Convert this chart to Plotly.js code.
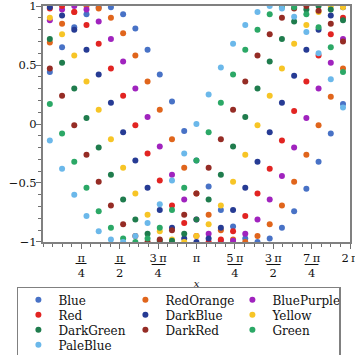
<!DOCTYPE html>
<html>
<head>
<meta charset="utf-8">
<script src="https://cdn.plot.ly/plotly-3.0.1.min.js"></script>
<style>html,body{margin:0;padding:0;background:#fff}#chart{width:355px;height:355px}</style>
</head>
<body>
<div id="chart"></div>
<script>
// sample positions (radians)
const xValues = [0.14,0.39,0.64,0.89,1.14,1.39,1.64,1.89,2.14,2.39,2.64,2.89,3.14,3.39,3.64,3.89,4.14,4.39,4.64,4.89,5.14,5.39,5.64,5.89,6.14];

const seriesNames = ['Blue','RedOrange','BluePurple','Red','DarkBlue','Yellow','DarkGreen','DarkRed','Green','PaleBlue'];
const seriesColors = ['#4872c6','#e0651c','#a023be','#e22422','#263b94','#f7c526','#1f7c4d','#952c25','#2ba866','#6bb8ea'];

const blue       = [0.44,0.65,0.82,0.93,0.99,0.99,0.93,0.81,0.63,0.42,0.19,-0.06,-0.31,-0.53,-0.73,-0.87,-0.97,-1.00,-0.97,-0.88,-0.74,-0.55,-0.32,-0.08,0.17];
const redOrange  = [0.69,0.85,0.95,1.00,0.98,0.90,0.77,0.58,0.36,0.12,-0.13,-0.37,-0.59,-0.77,-0.90,-0.98,-1.00,-0.95,-0.85,-0.69,-0.49,-0.26,-0.01,0.23,0.47];
const bluePurple = [0.88,0.97,1.00,0.97,0.87,0.72,0.53,0.30,0.06,-0.19,-0.43,-0.64,-0.81,-0.93,-0.99,-0.99,-0.93,-0.81,-0.64,-0.44,-0.20,0.05,0.30,0.52,0.72];
const red        = [0.98,1.00,0.95,0.84,0.68,0.47,0.24,-0.01,-0.25,-0.48,-0.69,-0.84,-0.95,-1.00,-0.98,-0.91,-0.78,-0.59,-0.38,-0.14,0.11,0.36,0.58,0.76,0.90];
const darkBlue   = [0.99,0.92,0.80,0.63,0.42,0.18,-0.07,-0.31,-0.54,-0.73,-0.88,-0.97,-1.00,-0.97,-0.88,-0.73,-0.54,-0.32,-0.07,0.18,0.41,0.63,0.80,0.92,0.99];
const yellow     = [0.90,0.76,0.58,0.36,0.12,-0.13,-0.37,-0.59,-0.77,-0.91,-0.98,-1.00,-0.95,-0.85,-0.69,-0.49,-0.26,-0.01,0.24,0.47,0.68,0.84,0.95,1.00,0.99];
const darkGreen  = [0.72,0.52,0.30,0.05,-0.20,-0.43,-0.64,-0.81,-0.93,-0.99,-0.99,-0.93,-0.81,-0.64,-0.43,-0.19,0.06,0.30,0.53,0.72,0.87,0.97,1.00,0.97,0.88];
const darkRed    = [0.47,0.24,-0.01,-0.26,-0.49,-0.69,-0.85,-0.95,-1.00,-0.98,-0.90,-0.77,-0.59,-0.37,-0.13,0.12,0.36,0.58,0.76,0.90,0.98,1.00,0.96,0.85,0.70];
const green      = [0.17,-0.08,-0.32,-0.54,-0.74,-0.88,-0.97,-1.00,-0.97,-0.88,-0.73,-0.54,-0.31,-0.07,0.18,0.42,0.63,0.80,0.93,0.99,0.99,0.93,0.82,0.65,0.44];
const paleBlue   = [-0.14,-0.38,-0.60,-0.78,-0.91,-0.98,-1.00,-0.95,-0.84,-0.68,-0.48,-0.25,0.00,0.25,0.48,0.68,0.84,0.95,1.00,0.98,0.91,0.78,0.60,0.38,0.14];

const seriesValues = [blue, redOrange, bluePurple, red, darkBlue, yellow, darkGreen, darkRed, green, paleBlue];

// tick labels: numerator over denominator, fraction bar added as text between
const xTickMultiples = [1,2,3,4,5,6,7,8]; // multiples of pi/4
const xTickText = [
  'π<br>4',
  'π<br>2',
  '3\u2009π<br>4',
  'π',
  '5\u2009π<br>4',
  '3\u2009π<br>2',
  '7\u2009π<br>4',
  '2\u2009π'
];
const fractionTicks = [1,2,3,5,6,7];          // ticks whose label is a fraction
const fractionBarSize = [12,12,15,15,15,15];  // bar glyph size per fraction
const yTickVals = [-1,-0.5,0,0.5,1];
const yTickText = ['\u22121','\u22120.5','0','0.5','1'];

const data = seriesNames.map((name, i) => ({
  type: 'scatter',
  mode: 'markers',
  name: name,
  x: xValues,
  y: seriesValues[i],
  marker: {color: seriesColors[i], size: 6, line: {width: 0}},
  cliponaxis: true
}));

const fractionBars = fractionTicks.map((k, i) => ({
  xref: 'x', yref: 'paper',
  x: k * Math.PI / 4, y: -0.089,
  xanchor: 'center', yanchor: 'middle',
  text: '\u2014', showarrow: false,
  font: {family: 'DejaVu Serif', size: fractionBarSize[i], color: '#111'}
}));

const axisCommon = {
  showline: true, linecolor: '#808080', linewidth: 2, mirror: true,
  showgrid: false, zeroline: false,
  ticks: 'outside', ticklen: 5, tickwidth: 1, tickcolor: '#707070',
  tickfont: {family: 'DejaVu Serif', size: 11.5, color: '#111'},
  ticklabeloverflow: 'allow',
  automargin: false
};

const layout = {
  width: 355, height: 355,
  margin: {l: 43, r: 5, t: 6, b: 113, autoexpand: false},
  paper_bgcolor: '#fff', plot_bgcolor: '#fff',
  font: {family: 'DejaVu Serif', size: 12, color: '#111'},
  showlegend: true,
  annotations: fractionBars,
  xaxis: Object.assign({}, axisCommon, {
    range: [0, 2 * Math.PI],
    tickmode: 'array',
    tickvals: xTickMultiples.map(k => k * Math.PI / 4),
    ticktext: xTickText,
    ticklabelstandoff: -1,
    minor: {tickmode: 'linear', tick0: 0, dtick: Math.PI / 16, ticks: 'outside', ticklen: 3, tickwidth: 1, tickcolor: '#707070', showgrid: false},
    title: {text: '<i>x</i>', font: {family: 'DejaVu Serif', size: 10, color: '#111'}, standoff: 1}
  }),
  yaxis: Object.assign({}, axisCommon, {
    range: [-1.0005, 1.0005],
    tickmode: 'array',
    tickvals: yTickVals,
    ticktext: yTickText,
    ticklabelstandoff: -3,
    minor: {tickmode: 'linear', tick0: 0, dtick: 0.1, ticks: 'outside', ticklen: 3, tickwidth: 1, tickcolor: '#707070', showgrid: false}
  }),
  legend: {
    orientation: 'h',
    x: -0.085, xanchor: 'left',
    y: -0.19, yanchor: 'top',
    bordercolor: '#808080', borderwidth: 1.5, bgcolor: '#fff',
    font: {family: 'DejaVu Serif', size: 12, color: '#111'},
    entrywidth: 62,
    traceorder: 'normal'
  }
};

Plotly.newPlot('chart', data, layout, {staticPlot: true, displayModeBar: false}).then(function (gd) {
  // tighten legend row spacing
  var items = Array.from(gd.querySelectorAll('.legend .traces'));
  var parsed = items.map(function (el) {
    var m = /translate\(\s*([-\d.e]+)[\s,]+([-\d.e]+)\s*\)/.exec(el.getAttribute('transform') || '');
    return m ? {el: el, x: +m[1], y: +m[2]} : null;
  }).filter(Boolean);
  var rows = Array.from(new Set(parsed.map(function (p) { return Math.round(p.y * 10) / 10; }))).sort(function (a, b) { return a - b; });
  if (rows.length > 1) {
    var step = 15, lift = 3;
    var oldStep = rows[1] - rows[0];
    parsed.forEach(function (p) {
      var r = rows.indexOf(Math.round(p.y * 10) / 10);
      p.el.setAttribute('transform', 'translate(' + p.x + ',' + (rows[0] - lift + r * step) + ')');
    });
    var bg = gd.querySelector('.legend .bg');
    if (bg) {
      var h = +bg.getAttribute('height');
      bg.setAttribute('height', h - (rows.length - 1) * (oldStep - step) - 2 * lift);
    }
  }
});
</script>
</body>
</html>
